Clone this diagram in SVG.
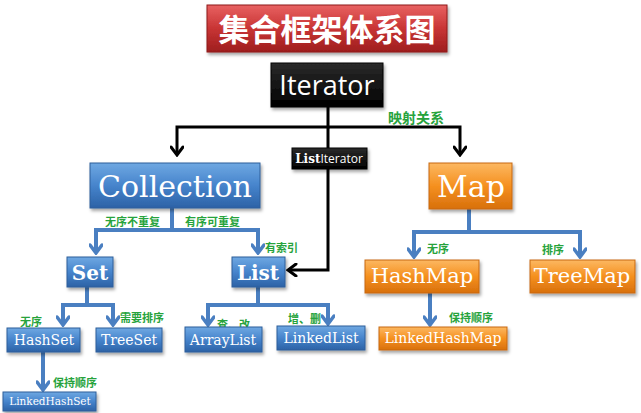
<svg xmlns="http://www.w3.org/2000/svg" width="641" height="413" viewBox="0 0 641 413">
<defs>
<linearGradient id="gBlue" x1="0" y1="0" x2="0" y2="1">
<stop offset="0" stop-color="#6fa8e2"/><stop offset="0.5" stop-color="#4684cc"/><stop offset="1" stop-color="#2c62a6"/>
</linearGradient>
<linearGradient id="gOrange" x1="0" y1="0" x2="0" y2="1">
<stop offset="0" stop-color="#fcb862"/><stop offset="0.5" stop-color="#f5901f"/><stop offset="1" stop-color="#d8700c"/>
</linearGradient>
<linearGradient id="gRed" x1="0" y1="0" x2="0" y2="1">
<stop offset="0" stop-color="#e86262"/><stop offset="0.5" stop-color="#c83434"/><stop offset="1" stop-color="#9e1e1e"/>
</linearGradient>
<linearGradient id="gBlack" x1="0" y1="0" x2="0" y2="1">
<stop offset="0" stop-color="#2a2a2a"/><stop offset="1" stop-color="#000"/>
</linearGradient>
<filter id="sh" x="-10%" y="-10%" width="125%" height="140%">
<feDropShadow dx="1.5" dy="2.5" stdDeviation="1.5" flood-color="#000" flood-opacity="0.35"/>
</filter>
<marker id="aBlue" markerUnits="userSpaceOnUse" viewBox="0 0 12 14" refX="10" refY="7" markerWidth="12" markerHeight="14" orient="auto">
<path d="M2,1 L10,7 L2,13" fill="none" stroke="#4a7fc1" stroke-width="3.5" stroke-linecap="round" stroke-linejoin="miter"/>
</marker>
<marker id="aBlack" markerUnits="userSpaceOnUse" viewBox="0 0 12 14" refX="10" refY="7" markerWidth="12" markerHeight="14" orient="auto">
<path d="M2,1 L10,7 L2,13" fill="none" stroke="#000" stroke-width="3" stroke-linecap="round"/>
</marker>
</defs>
<style>
.blue{fill:url(#gBlue);stroke:#2f5e9a;stroke-width:1;filter:url(#sh)}
.orange{fill:url(#gOrange);stroke:#c8680e;stroke-width:1;filter:url(#sh)}
.red{fill:url(#gRed);stroke:#8e1a1a;stroke-width:1;filter:url(#sh)}
.black{fill:url(#gBlack);stroke:#000;stroke-width:1;filter:url(#sh)}
.t{fill:#fff;font-family:"DejaVu Serif","Liberation Serif",serif;text-anchor:middle}
.tb{font-weight:bold}
.sans{fill:#fff;font-family:"Open Sans","DejaVu Sans",sans-serif;text-anchor:middle}
.lbl{fill:#27a33c;font-family:"Noto Sans CJK SC",sans-serif;font-weight:bold;font-size:11px}
.cb{fill:none;stroke:#4a7fc1;stroke-width:4}
.ck{fill:none;stroke:#000;stroke-width:3}
</style>

<g id="connectors">
<path class="ck" d="M328,107 V127 H177 V155" marker-end="url(#aBlack)"/>
<path class="ck" d="M328,127 H460 V155" marker-end="url(#aBlack)"/>
<path class="ck" d="M328,127 V270 H288" marker-end="url(#aBlack)"/>
<path class="cb" d="M172,208 V230 H96 V253" marker-end="url(#aBlue)"/>
<path class="cb" d="M172,230 H258 V253" marker-end="url(#aBlue)"/>
<path class="cb" d="M87,287 V305 H63 V325" marker-end="url(#aBlue)"/>
<path class="cb" d="M87,305 H113 V325" marker-end="url(#aBlue)"/>
<path class="cb" d="M43,352 V390" marker-end="url(#aBlue)"/>
<path class="cb" d="M258,287 V305 H208 V325" marker-end="url(#aBlue)"/>
<path class="cb" d="M258,305 H328 V324" marker-end="url(#aBlue)"/>
<path class="cb" d="M469,209 V232 H414 V257" marker-end="url(#aBlue)"/>
<path class="cb" d="M469,232 H580 V257" marker-end="url(#aBlue)"/>
<path class="cb" d="M430,293 V325" marker-end="url(#aBlue)"/>
</g>

<g id="labels">
<text class="lbl" x="388" y="123" style="font-size:14px">映射关系</text>
<text class="lbl" x="105" y="226">无序不重复</text>
<text class="lbl" x="185" y="226">有序可重复</text>
<text class="lbl" x="265" y="252">有索引</text>
<text class="lbl" x="20" y="326">无序</text>
<text class="lbl" x="120" y="322">需要排序</text>
<text class="lbl" x="53" y="387">保持顺序</text>
<text class="lbl" x="217" y="329">查、改</text>
<text class="lbl" x="288" y="323">增、删</text>
<text class="lbl" x="427" y="253">无序</text>
<text class="lbl" x="542" y="254">排序</text>
<text class="lbl" x="449" y="322">保持顺序</text>
</g>

<g id="title">
<rect class="red" x="207" y="5" width="240" height="47"/>
<text x="327" y="41" fill="#fff" font-family="'Noto Sans CJK SC',sans-serif" font-weight="bold" font-size="31" text-anchor="middle">集合框架体系图</text>
</g>
<g id="iterator">
<rect class="black" x="271" y="63" width="112" height="44"/>
<text class="sans" x="327" y="95" font-size="27">Iterator</text>
</g>
<g id="listiterator">
<rect class="black" x="292" y="148" width="75" height="21"/>
<text x="329" y="163" fill="#fff" text-anchor="middle" font-size="12"><tspan font-family="'DejaVu Serif',serif" font-weight="bold">List</tspan><tspan font-family="'Open Sans',sans-serif">Iterator</tspan></text>
</g>
<g id="collection">
<rect class="blue" x="90" y="163" width="170" height="45"/>
<text class="t" x="175" y="197" font-size="30">Collection</text>
</g>
<g id="map">
<rect class="orange" x="429" y="163" width="83" height="46"/>
<text class="t" x="471" y="197" font-size="30">Map</text>
</g>
<g id="set">
<rect class="blue" x="67" y="257" width="46" height="30"/>
<text class="t tb" x="90" y="280" font-size="20">Set</text>
</g>
<g id="list">
<rect class="blue" x="232" y="257" width="53" height="30"/>
<text class="t tb" x="258" y="280" font-size="20">List</text>
</g>
<g id="hashset">
<rect class="blue" x="7" y="328" width="73" height="24"/>
<text class="t" x="44" y="345" font-size="14">HashSet</text>
</g>
<g id="treeset">
<rect class="blue" x="96" y="328" width="66" height="24"/>
<text class="t" x="129" y="345" font-size="14">TreeSet</text>
</g>
<g id="linkedhashset">
<rect class="blue" x="3" y="392" width="93" height="19"/>
<text class="t" x="50" y="405" font-size="10.5">LinkedHashSet</text>
</g>
<g id="arraylist">
<rect class="blue" x="185" y="327" width="77" height="25"/>
<text class="t" x="223" y="345" font-size="14">ArrayList</text>
</g>
<g id="linkedlist">
<rect class="blue" x="277" y="326" width="88" height="24"/>
<text class="t" x="321" y="343" font-size="14">LinkedList</text>
</g>
<g id="hashmap">
<rect class="orange" x="365" y="260" width="114" height="33"/>
<text class="t" x="422" y="283" font-size="21">HashMap</text>
</g>
<g id="treemap">
<rect class="orange" x="530" y="260" width="105" height="33"/>
<text class="t" x="582" y="283" font-size="21">TreeMap</text>
</g>
<g id="linkedhashmap">
<rect class="orange" x="379" y="327" width="128" height="23"/>
<text class="t" x="443" y="343" font-size="14">LinkedHashMap</text>
</g>
</svg>
